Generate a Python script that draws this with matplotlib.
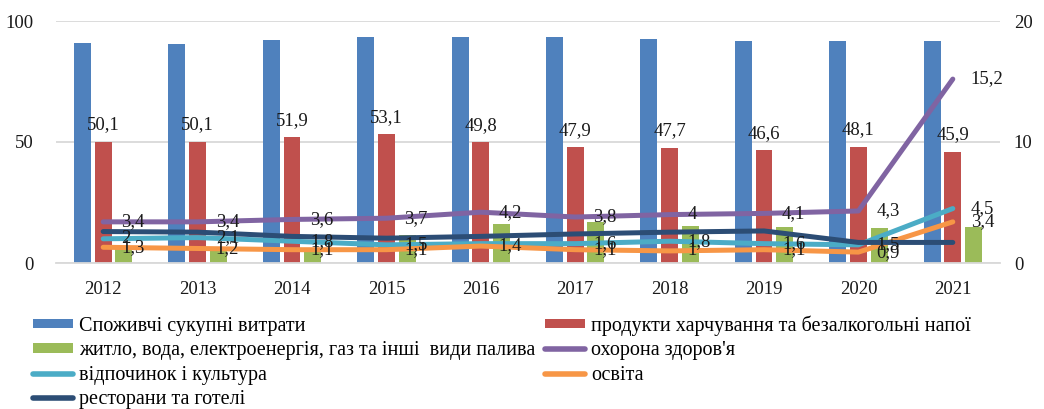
import matplotlib
matplotlib.use("Agg")
import matplotlib.pyplot as plt
import numpy as np
from matplotlib.patches import Patch
from matplotlib.lines import Line2D

years = ["2012", "2013", "2014", "2015", "2016", "2017", "2018", "2019", "2020", "2021"]

# left axis (bars)
total_spending = [91.0, 90.6, 92.0, 93.4, 93.4, 93.4, 92.6, 91.6, 91.6, 91.6]
food = [50.1, 50.1, 51.9, 53.1, 49.8, 47.9, 47.7, 46.6, 48.1, 45.9]
housing = [6.6, 6.6, 6.0, 11.6, 16.1, 17.1, 15.3, 14.7, 14.3, 15.0]

# right axis (lines)
health = [3.4, 3.4, 3.6, 3.7, 4.2, 3.8, 4.0, 4.1, 4.3, 15.2]
recreation = [2.0, 2.1, 1.8, 1.5, 1.6, 1.6, 1.8, 1.6, 1.5, 4.5]
education = [1.3, 1.2, 1.1, 1.1, 1.4, 1.1, 1.0, 1.1, 0.9, 3.4]
restaurants = [2.6, 2.55, 2.2, 2.05, 2.2, 2.4, 2.55, 2.65, 1.7, 1.7]
recreation_labelled = [True, True, True, True, False, True, True, True, True, True]

names = ["Споживчі сукупні витрати",
         "продукти харчування та безалкогольні напої",
         "житло, вода, електроенергія, газ та інші  види палива",
         "охорона здоров'я",
         "відпочинок і культура",
         "освіта",
         "ресторани та готелі"]

c_blue = "#4F81BD"
c_red = "#C0504D"
c_green = "#9BBB59"
c_purple = "#8064A2"
c_cyan = "#4BACC6"
c_orange = "#F79646"
c_navy = "#2C4D75"

FONT = "Liberation Serif"
FS = 13.5
LFS = 14.5
TXT = "#1a1a1a"

def fmt(v):
    s = ("%.1f" % v).rstrip("0").rstrip(".")
    return s.replace(".", ",")

fig = plt.figure(figsize=(10.44, 4.09), dpi=100)
ax = fig.add_axes([56/1044, 1-263/409, (1000-56)/1044, (263-21)/409])
ax2 = ax.twinx()

x = np.arange(len(years))
w = 0.18
step = 0.22
ax.bar(x - step, total_spending, width=w, color=c_blue, zorder=2)
ax.bar(x, food, width=w, color=c_red, zorder=2)
ax.bar(x + step, housing, width=w, color=c_green, zorder=2)

for xi, v in zip(x, food):
    ax.annotate(fmt(v), (xi, v), xytext=(0, 6), textcoords="offset points",
                ha="center", va="bottom", fontsize=FS, family=FONT, color=TXT)

ax.set_ylim(0, 100)
ax.set_yticks([0, 50, 100])
ax.set_xlim(-0.5, len(years) - 0.5)
ax.set_xticks(x)
ax.set_xticklabels(years)
ax.grid(axis="y", color="#d9d9d9", linewidth=1.3, zorder=0)
ax.set_axisbelow(True)
for sp in ["top", "right", "left"]:
    ax.spines[sp].set_visible(False)
ax.spines["bottom"].set_color("#d9d9d9")
ax.spines["bottom"].set_linewidth(1.3)
ax.tick_params(axis="both", length=0, labelsize=FS, labelcolor=TXT)
ax.tick_params(axis="y", pad=16)
ax.tick_params(axis="x", pad=13)
for lab in ax.get_xticklabels() + ax.get_yticklabels():
    lab.set_family(FONT)

lw = 3.6
ax2.plot(x, health, color=c_purple, lw=lw, solid_capstyle="round", solid_joinstyle="round", zorder=3)
ax2.plot(x, recreation, color=c_cyan, lw=lw, solid_capstyle="round", solid_joinstyle="round", zorder=3)
ax2.plot(x, education, color=c_orange, lw=lw, solid_capstyle="round", solid_joinstyle="round", zorder=3)
ax2.plot(x, restaurants, color=c_navy, lw=lw, solid_capstyle="round", solid_joinstyle="round", zorder=3)

def label_series(vals, show=None):
    for i, (xi, v) in enumerate(zip(x, vals)):
        if show is not None and not show[i]:
            continue
        ax2.annotate(fmt(v), (xi, v), xytext=(13, 0), textcoords="offset points",
                     ha="left", va="center", fontsize=FS, family=FONT, color=TXT, zorder=5)

label_series(health)
label_series(recreation, recreation_labelled)
label_series(education)

ax2.set_ylim(0, 20)
ax2.set_yticks([0, 10, 20])
for sp in ax2.spines.values():
    sp.set_visible(False)
ax2.tick_params(axis="y", length=0, labelsize=FS, labelcolor=TXT, pad=10)
for lab in ax2.get_yticklabels():
    lab.set_family(FONT)

handles = [
    Patch(facecolor=c_blue, label=names[0]),
    Patch(facecolor=c_green, label=names[2]),
    Line2D([], [], color=c_cyan, lw=4, solid_capstyle="round", label=names[4]),
    Line2D([], [], color=c_navy, lw=4, solid_capstyle="round", label=names[6]),
    Patch(facecolor=c_red, label=names[1]),
    Line2D([], [], color=c_purple, lw=4, solid_capstyle="round", label=names[3]),
    Line2D([], [], color=c_orange, lw=4, solid_capstyle="round", label=names[5]),
]
fig.legend(handles=handles, ncol=2, loc="upper left", bbox_to_anchor=(33/1044, 1-315/409),
           frameon=False, prop={"family": FONT, "size": LFS}, handlelength=2.0,
           handleheight=0.35, handletextpad=0.3, columnspacing=0.45, labelspacing=0.28,
           borderpad=0, borderaxespad=0)

fig.savefig("out.png", dpi=100)
